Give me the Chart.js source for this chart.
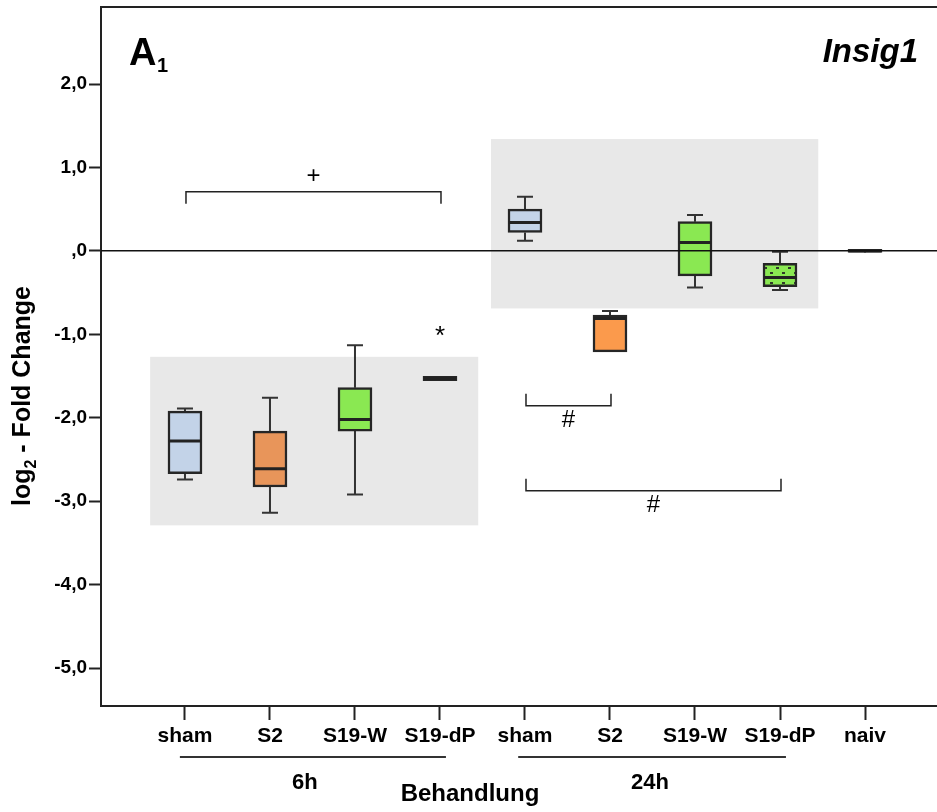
<!DOCTYPE html>
<html>
<head>
<meta charset="utf-8">
<script src="https://cdn.jsdelivr.net/npm/chart.js@4.4.1/dist/chart.umd.min.js"></script>
<style>
  html, body { margin: 0; padding: 0; background: #fff; }
  #wrap { width: 937px; height: 812px; position: relative; }
</style>
</head>
<body>
<div id="wrap"><canvas id="chart" width="937" height="812"></canvas></div>
<script>
  // Werte (log2 Fold Change)
  const categories  = ["sham", "S2", "S19-W", "S19-dP", "sham", "S2", "S19-W", "S19-dP", "naiv"];
  const whiskerLow  = [-2.74, -3.14, -2.92, -1.53,  0.12, -1.21, -0.44, -0.47,  0.00];
  const q1          = [-2.67, -2.83, -2.16, -1.555, 0.22, -1.21, -0.30, -0.43, -0.02];
  const median      = [-2.28, -2.61, -2.02, -1.53,  0.34, -0.81,  0.10, -0.32,  0.00];
  const q3          = [-1.92, -2.16, -1.64, -1.505, 0.50, -0.77,  0.35, -0.15,  0.02];
  const whiskerHigh = [-1.89, -1.76, -1.13, -1.53,  0.65, -0.72,  0.43, -0.01,  0.00];

  const yTicks = [2, 1, 0, -1, -2, -3, -4, -5];

  const groups = [
    { label: "6h",  from: -0.06, to: 3.07, labelAt: 1.41 },
    { label: "24h", from: 3.92,  to: 7.07, labelAt: 5.47 },
  ];

  const shadedRegions = [
    { x0: -0.41, x1: 3.45, y0: -3.29, y1: -1.27 },
    { x0: 3.60,  x1: 7.45, y0: -0.69, y1: 1.34 },
  ];

  const brackets = [
    { from: 0, to: 3, y: 0.71,   dir: 1,  label: "+" },
    { from: 4, to: 5, y: -1.856, dir: -1, label: "#" },
    { from: 4, to: 7, y: -2.874, dir: -1, label: "#" },
  ];

  const stars = [{ x: 3, y: -0.98, label: "*" }];

  const FONT = "Arial, 'Liberation Sans', sans-serif";
  const BLUE = "#c3d3e8", ORANGE6 = "#e8955a", ORANGE24 = "#fb9a4c", GREEN = "#8ae852";

  function dotPattern(){
    const p = document.createElement("canvas");
    p.width = 12; p.height = 10;
    const c = p.getContext("2d");
    c.fillStyle = GREEN;
    c.fillRect(0, 0, 12, 10);
    c.fillStyle = "#2f3a2a";
    c.fillRect(2, 2, 3, 2);
    c.fillRect(8, 7, 3, 2);
    return document.getElementById("chart").getContext("2d").createPattern(p, "repeat");
  }

  const fills = [BLUE, ORANGE6, GREEN, "#222", BLUE, ORANGE24, GREEN, dotPattern(), "#222"];

  const extras = {
    id: "extras",
    beforeDatasetsDraw(chart){
      const { ctx, scales: { x, y } } = chart;
      ctx.save();
      // graue Felder
      ctx.fillStyle = "#e8e8e8";
      for(const r of shadedRegions){
        const px0 = x.getPixelForValue(r.x0), px1 = x.getPixelForValue(r.x1);
        const py0 = y.getPixelForValue(r.y1), py1 = y.getPixelForValue(r.y0);
        ctx.fillRect(px0, py0, px1 - px0, py1 - py0);
      }
      // Whisker
      ctx.strokeStyle = "#333";
      ctx.lineWidth = 2;
      categories.forEach((c, i) => {
        const cx = x.getPixelForValue(i);
        const segs = [[q3[i], whiskerHigh[i]], [q1[i], whiskerLow[i]]];
        for(const [a, b] of segs){
          if(Math.abs(a - b) < 1e-6) continue;
          const pa = y.getPixelForValue(a), pb = y.getPixelForValue(b);
          ctx.beginPath();
          ctx.moveTo(cx, pa); ctx.lineTo(cx, pb);
          ctx.moveTo(cx - 8, pb); ctx.lineTo(cx + 8, pb);
          ctx.stroke();
        }
      });
      ctx.restore();
    },
    afterDatasetsDraw(chart){
      const { ctx, chartArea: ca, scales: { x, y } } = chart;
      ctx.save();
      // Median
      ctx.strokeStyle = "#222";
      ctx.lineWidth = 3;
      categories.forEach((c, i) => {
        const cx = x.getPixelForValue(i), py = y.getPixelForValue(median[i]);
        ctx.beginPath();
        ctx.moveTo(cx - 16, py); ctx.lineTo(cx + 16, py);
        ctx.stroke();
      });
      // Nulllinie
      ctx.strokeStyle = "#111";
      ctx.lineWidth = 1.5;
      const y0 = y.getPixelForValue(0);
      ctx.beginPath();
      ctx.moveTo(ca.left, y0); ctx.lineTo(ca.right, y0);
      ctx.stroke();
      // Rahmen oben
      ctx.lineWidth = 2;
      ctx.strokeStyle = "#222";
      ctx.beginPath();
      ctx.moveTo(ca.left, ca.top); ctx.lineTo(ca.right, ca.top);
      ctx.stroke();
      // Klammern
      ctx.lineWidth = 1.5;
      ctx.strokeStyle = "#222";
      ctx.fillStyle = "#000";
      ctx.textAlign = "center";
      ctx.textBaseline = "middle";
      for(const b of brackets){
        const xa = x.getPixelForValue(b.from) + 1, xb = x.getPixelForValue(b.to) + 1;
        const py = y.getPixelForValue(b.y);
        const end = py + b.dir * 12;
        ctx.beginPath();
        ctx.moveTo(xa, end); ctx.lineTo(xa, py); ctx.lineTo(xb, py); ctx.lineTo(xb, end);
        ctx.stroke();
        ctx.font = "24px " + FONT;
        ctx.fillText(b.label, (xa + xb) / 2, py - b.dir * 15);
      }
      for(const s of stars){
        ctx.font = "26px " + FONT;
        ctx.fillText(s.label, x.getPixelForValue(s.x), y.getPixelForValue(s.y) + 4);
      }
      // Gruppen unter der Achse
      ctx.lineWidth = 2;
      ctx.strokeStyle = "#333";
      ctx.textBaseline = "alphabetic";
      ctx.font = "bold 22px " + FONT;
      for(const g of groups){
        const a = x.getPixelForValue(g.from), b = x.getPixelForValue(g.to);
        ctx.beginPath();
        ctx.moveTo(a, 757); ctx.lineTo(b, 757);
        ctx.stroke();
        ctx.fillText(g.label, x.getPixelForValue(g.labelAt), 789);
      }
      ctx.font = "bold 24px " + FONT;
      ctx.fillText("Behandlung", 470, 801);
      // Titel
      ctx.textAlign = "left";
      ctx.font = "bold 38px " + FONT;
      ctx.fillText("A", 129, 65);
      ctx.font = "bold 20px " + FONT;
      ctx.fillText("1", 157, 72);
      ctx.textAlign = "right";
      ctx.font = "italic bold 33px " + FONT;
      ctx.fillText("Insig1", 918, 62);
      // y-Achsentitel
      ctx.save();
      ctx.translate(30, 396);
      ctx.rotate(-Math.PI / 2);
      const big = "bold 25px " + FONT, small = "bold 16px " + FONT;
      ctx.font = big;  const w1 = ctx.measureText("log").width;
      ctx.font = small; const w2 = ctx.measureText("2").width;
      ctx.font = big;  const w3 = ctx.measureText(" - Fold Change").width;
      let sx = -(w1 + w2 + w3) / 2;
      ctx.textAlign = "left";
      ctx.font = big; ctx.fillText("log", sx, 0); sx += w1;
      ctx.font = small; ctx.fillText("2", sx, 6); sx += w2;
      ctx.font = big; ctx.fillText(" - Fold Change", sx, 0);
      ctx.restore();
      ctx.restore();
    }
  };

  new Chart(document.getElementById("chart"), {
    type: "bar",
    data: {
      datasets: [{
        data: categories.map((c, i) => ({ x: i, y: [q1[i], q3[i]] })),
        backgroundColor: fills,
        borderColor: "#262626",
        borderWidth: 2.5,
        borderSkipped: false,
        barThickness: 34,
      }]
    },
    options: {
      responsive: false,
      animation: false,
      layout: { autoPadding: false, padding: { top: 7, left: 0, right: 0, bottom: 0 } },
      plugins: { legend: { display: false }, tooltip: { enabled: false } },
      scales: {
        x: {
          type: "linear",
          offset: false,
          min: -0.988, max: 8.847,
          afterBuildTicks: (s) => { s.ticks = categories.map((c, i) => ({ value: i })); },
          afterFit: (s) => { s.height = 106; s.paddingLeft = 0; s.paddingRight = 0; },
          ticks: {
            callback: (v) => categories[v],
            font: { family: FONT, size: 21, weight: "bold" },
            color: "#000",
            padding: 4,
            maxRotation: 0,
            autoSkip: false,
          },
          grid: { offset: false, drawOnChartArea: false, tickLength: 14, tickWidth: 2, tickColor: "#222" },
          border: { color: "#222", width: 2 },
        },
        y: {
          min: -5.455, max: 2.923,
          afterBuildTicks: (s) => { s.ticks = yTicks.map(v => ({ value: v })); },
          afterFit: (s) => { s.width = 101; s.paddingTop = 0; s.paddingBottom = 0; },
          ticks: {
            callback: (v) => v === 0 ? ",0" : v.toFixed(1).replace(".", ","),
            font: { family: FONT, size: 19, weight: "bold" },
            color: "#000",
            padding: 2,
          },
          grid: { drawOnChartArea: false, tickLength: 12, tickWidth: 2, tickColor: "#222" },
          border: { color: "#222", width: 2 },
        }
      }
    },
    plugins: [extras]
  });
</script>
</body>
</html>
